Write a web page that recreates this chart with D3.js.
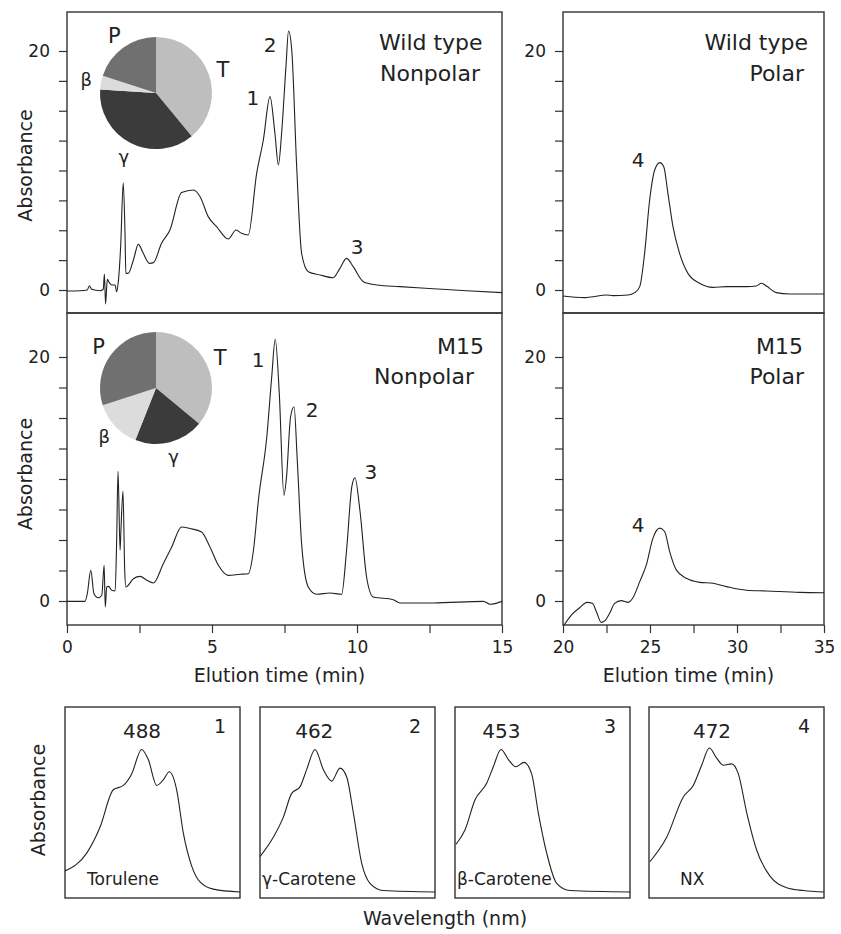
<!DOCTYPE html>
<html>
<head>
<meta charset="utf-8">
<script src="https://cdn.jsdelivr.net/npm/d3@7"></script>
<style>
  body { margin: 0; background: #fff; }
  text { font-family: "DejaVu Sans", Verdana, sans-serif; fill: #222; }
</style>
</head>
<body>
<div id="chart"></div>
<script>

// ---- data ----

// elution profiles: [time (min), absorbance]
var wtNonpolar = [[0,-0.08],[0.45,-0.06],[0.7,0],[0.77,0.36],[0.85,0.06],[1.14,-0.06],[1.25,0.06],[1.29,1.34],
  [1.33,-1.17],[1.39,0.89],[1.46,0.61],[1.54,0.42],[1.66,0.42],[1.71,-0.14],[1.77,0.7],[1.85,3.63],[1.94,8.98],
  [2.0,4.74],[2.03,1.39],[2.11,1.39],[2.29,2.51],[2.46,3.82],[2.63,3.07],[2.84,2.23],[2.98,2.29],[3.26,3.91],
  [3.55,5.02],[3.95,8.15],[4.36,8.37],[4.59,7.81],[4.87,6.14],[5.16,5.3],[5.56,4.27],[5.83,5.02],[6.02,4.74],
  [6.25,4.6],[6.54,9.76],[6.77,12.55],[7.0,16.18],[7.17,13.1],[7.29,10.46],[7.4,13.1],[7.55,18.69],[7.64,21.67],
  [7.75,20.08],[7.92,10.32],[8.09,3.07],[8.32,1.53],[8.72,1.26],[9.18,1.03],[9.41,1.81],[9.64,2.65],[9.87,1.95],
  [10.22,0.7],[10.68,0.42],[11.48,0.28],[12.63,0.11],[13.78,-0.06],[15,-0.22]];

var m15Nonpolar = [[0,-0.03],[0.62,-0.03],[0.7,0.6],[0.82,2.52],[0.93,0.6],[1.08,0.27],[1.2,0.47],[1.28,2.93],
  [1.32,-0.49],[1.37,1.15],[1.43,1.2],[1.54,0.88],[1.66,0.82],[1.71,4.7],[1.76,10.64],[1.83,4.16],[1.86,5.8],
  [1.93,9.0],[1.99,2.52],[2.03,1.15],[2.11,1.29],[2.29,1.83],[2.52,2.02],[2.75,1.7],[2.98,1.48],[3.32,3.06],
  [3.61,4.43],[3.95,6.07],[4.24,5.94],[4.64,5.66],[4.93,4.43],[5.22,2.93],[5.56,2.1],[5.97,2.19],[6.25,2.24],
  [6.43,4.16],[6.6,8.26],[6.89,13.46],[7.06,18.39],[7.18,21.45],[7.32,17.02],[7.48,8.67],[7.57,10.18],[7.71,15.1],
  [7.83,15.92],[7.94,11.55],[8.09,4.7],[8.32,1.15],[8.61,0.55],[9.07,0.66],[9.47,0.55],[9.64,4.16],[9.82,9.36],
  [9.93,10.1],[10.1,7.44],[10.33,1.97],[10.56,0.33],[11.25,0.11],[11.48,-0.16],[12.63,-0.16],[14.36,-0.03],
  [14.59,-0.27],[15,-0.03]];

var wtPolar = [[20,-0.5],[21.25,-0.64],[21.72,-0.56],[22.49,-0.42],[22.87,-0.47],[23.74,-0.42],[24.12,-0.22],
  [24.41,0.28],[24.69,3.07],[24.98,7.53],[25.27,10.04],[25.56,10.66],[25.79,10.32],[26.03,8.09],[26.32,5.3],
  [26.7,3.07],[27.18,1.39],[27.85,0.56],[28.62,0.22],[29.39,0.28],[30.54,0.28],[31.11,0.33],[31.4,0.56],
  [31.69,0.33],[32.26,-0.22],[33.03,-0.33],[35,-0.33]];

var m15Polar = [[20,-2.11],[20.48,-1.15],[20.96,-0.55],[21.38,-0.11],[21.69,-0.19],[21.92,-0.88],[22.2,-1.75],
  [22.45,-1.56],[22.68,-1.01],[22.97,-0.19],[23.35,0.03],[23.74,-0.11],[24.02,0.27],[24.41,1.59],[24.79,2.96],
  [25.17,5.15],[25.56,5.97],[25.84,5.7],[26.13,4.05],[26.51,2.55],[27.09,1.86],[27.85,1.53],[28.62,1.45],
  [29.39,1.18],[30.54,0.88],[31.69,0.82],[33.6,0.71],[35,0.68]];

// peak numbers: [time, absorbance, label]
var wtNonpolarPeaks = [[6.41,16.07,"1"],[7.0,20.5,"2"],[10.0,3.6,"3"]];
var m15NonpolarPeaks = [[6.59,19.75,"1"],[8.45,15.66,"2"],[10.48,10.57,"3"]];
var wtPolarPeaks = [[24.31,10.88,"4"]];
var m15PolarPeaks = [[24.31,6.26,"4"]];

// carotenoid composition (%): torulene, gamma, beta, polar
var pieLabels = ["T", "γ", "β", "P"];
var wtPie = [39, 37, 4, 20];
var m15Pie = [36, 20, 14, 30];

// absorption spectra: [wavelength (nm), relative absorbance]
var torulene = [[400,0.146],[424.8,0.27],[440,0.45],[455.2,0.71],[466.7,0.74],[476.2,0.82],[487.6,0.99],
  [495.2,0.92],[504.8,0.74],[512.4,0.78],[519.2,0.835],[527.6,0.71],[535.2,0.41],[544.8,0.18],[554.3,0.07],
  [569.5,0.02],[600,0]];
var gammaCarotene = [[400,0.245],[415.2,0.38],[426.7,0.52],[436.2,0.685],[445.7,0.73],[453.3,0.85],[462.9,0.99],
  [472.4,0.85],[481.9,0.77],[491.4,0.86],[499,0.8],[506.7,0.55],[516.2,0.2],[525.7,0.06],[541,0.01],[600,0]];
var betaCarotene = [[401,0.33],[411.4,0.43],[422.9,0.64],[436.2,0.755],[443.8,0.87],[452.6,0.99],[461,0.92],
  [469.4,0.87],[478.9,0.9],[487.6,0.82],[495.2,0.55],[504.8,0.27],[516.2,0.06],[531.4,0.01],[600,0]];
var nx = [[401,0.21],[420.2,0.38],[439.2,0.66],[450.6,0.74],[460.2,0.88],[468.9,1.0],[477.3,0.93],[484.9,0.88],
  [494.5,0.89],[502.1,0.82],[511.7,0.55],[523.1,0.29],[538.3,0.11],[557.4,0.03],[576.4,0.01],[600,0]];

var spectraNames = ["Torulene", "γ-Carotene", "β-Carotene", "NX"];
var spectraMax = [488, 462, 453, 472];
var spectraPeak = ["1", "2", "3", "4"];

var yTicks = [0, 2.5, 5, 7.5, 10, 12.5, 15, 17.5, 20];
var xTicksLeft = [0, 2.5, 5, 7.5, 10, 12.5, 15];
var xTicksRight = [20, 22.5, 25, 27.5, 30, 32.5, 35];

// ---- layout ----

var svg = d3.select("#chart")
  .append("svg")
    .attr("width", 841)
    .attr("height", 934);

var xLeft = d3.scaleLinear().domain([0, 15]).range([67, 502]);
var xRight = d3.scaleLinear().domain([20, 35]).range([563, 824]);
var yTop = d3.scaleLinear().domain([0, 20]).range([290, 51]);
var yMid = d3.scaleLinear().domain([0, 20]).range([601, 357]);

var panels = [
  {id: "a", x: xLeft, y: yTop, top: 12, bottom: 313, data: wtNonpolar, peaks: wtNonpolarPeaks,
   title: [["Wild type", 379, 50, "start"], ["Nonpolar", 380, 81, "start"]], pie: wtPie, pieAt: [156, 93]},
  {id: "b", x: xRight, y: yTop, top: 12, bottom: 313, data: wtPolar, peaks: wtPolarPeaks,
   title: [["Wild type", 808, 50, "end"], ["Polar", 804, 81, "end"]]},
  {id: "c", x: xLeft, y: yMid, top: 313, bottom: 625, data: m15Nonpolar, peaks: m15NonpolarPeaks, ticks: xTicksLeft,
   title: [["M15", 484, 354, "end"], ["Nonpolar", 474, 384, "end"]], pie: m15Pie, pieAt: [156, 388]},
  {id: "d", x: xRight, y: yMid, top: 313, bottom: 625, data: m15Polar, peaks: m15PolarPeaks, ticks: xTicksRight,
   title: [["M15", 803, 354, "end"], ["Polar", 804, 384, "end"]]}
];

var pieColor = d3.scaleOrdinal().domain(pieLabels).range(["#bebebe", "#3b3b3b", "#dcdcdc", "#707070"]);

panels.forEach(function(p) {
  var x0 = p.x.range()[0], x1 = p.x.range()[1];

  svg.append("clipPath").attr("id", "clip-" + p.id)
    .append("rect")
      .attr("x", x0).attr("y", p.top)
      .attr("width", x1 - x0).attr("height", p.bottom - p.top);

  // y axis
  svg.append("g")
    .attr("transform", "translate(" + x0 + ",0)")
    .style("font-size", "17px")
    .call(d3.axisLeft(p.y).tickValues(yTicks).tickSize(8).tickPadding(9)
      .tickFormat(function(d) { return (d === 0 || d === 20) ? d : ""; }))
    .call(function(g) { g.select(".domain").remove(); })
    .call(function(g) { g.selectAll("line").attr("stroke", "#333").attr("stroke-width", 1.2); });

  // x axis (bottom row only)
  if (p.ticks) {
    svg.append("g")
      .attr("transform", "translate(0," + p.bottom + ")")
      .style("font-size", "17px")
      .call(d3.axisBottom(p.x).tickValues(p.ticks).tickSize(8).tickPadding(8)
        .tickFormat(function(d) { return d % 5 === 0 ? d : ""; }))
      .call(function(g) { g.select(".domain").remove(); })
      .call(function(g) { g.selectAll("line").attr("stroke", "#333").attr("stroke-width", 1.2); });
  }

  // frame
  svg.append("rect")
    .attr("x", x0).attr("y", p.top)
    .attr("width", x1 - x0).attr("height", p.bottom - p.top)
    .attr("fill", "none").attr("stroke", "#333").attr("stroke-width", 1.4);

  // trace
  svg.append("path")
    .datum(p.data)
    .attr("clip-path", "url(#clip-" + p.id + ")")
    .attr("d", d3.line()
      .x(function(d) { return p.x(d[0]); })
      .y(function(d) { return p.y(d[1]); })
      .curve(d3.curveMonotoneX))
    .attr("fill", "none")
    .attr("stroke", "#222")
    .attr("stroke-width", 1.1);

  // peak numbers
  svg.selectAll(null)
    .data(p.peaks)
    .enter()
    .append("text")
      .attr("x", function(d) { return p.x(d[0]); })
      .attr("y", function(d) { return p.y(d[1]); })
      .attr("dy", "0.36em")
      .attr("text-anchor", "middle")
      .style("font-size", "20px")
      .text(function(d) { return d[2]; });

  // panel titles
  p.title.forEach(function(t) {
    svg.append("text")
      .attr("x", t[1]).attr("y", t[2])
      .attr("text-anchor", t[3])
      .style("font-size", "22px")
      .text(t[0]);
  });

  // inset pie
  if (p.pie) {
    var pie = d3.pie().sort(null).value(function(d) { return d; });
    var arc = d3.arc().innerRadius(0).outerRadius(56);
    var labelArc = d3.arc().innerRadius(71).outerRadius(71);
    var g = svg.append("g").attr("transform", "translate(" + p.pieAt[0] + "," + p.pieAt[1] + ")");
    var slices = pie(p.pie);
    g.selectAll("path")
      .data(slices)
      .enter()
      .append("path")
        .attr("d", arc)
        .attr("fill", function(d, i) { return pieColor(pieLabels[i]); });
    g.selectAll("text")
      .data(slices)
      .enter()
      .append("text")
        .attr("transform", function(d) { return "translate(" + labelArc.centroid(d) + ")"; })
        .attr("dy", "0.36em")
        .attr("text-anchor", "middle")
        .style("font-size", function(d, i) { return (i === 0 || i === 3) ? "21px" : "18px"; })
        .text(function(d, i) { return pieLabels[i]; });
  }
});

// axis titles for the elution profiles
[yTop, yMid].forEach(function(y) {
  svg.append("text")
    .attr("transform", "translate(32," + ((y(0) + y(20)) / 2 - 5) + ") rotate(-90)")
    .attr("text-anchor", "middle")
    .style("font-size", "19px")
    .text("Absorbance");
});
[xLeft, xRight].forEach(function(x) {
  svg.append("text")
    .attr("x", (x.range()[0] + x.range()[1]) / 2 - 5)
    .attr("y", 682)
    .attr("text-anchor", "middle")
    .style("font-size", "19px")
    .text("Elution time (min)");
});

// ---- absorption spectra ----

var spectra = [torulene, gammaCarotene, betaCarotene, nx];
var specLeft = [65, 260, 455, 649];
var specW = 175, specTop = 707, specBottom = 898;
var ySpec = d3.scaleLinear().domain([0, 1]).range([892, 748]);
var nameOffset = [22, 2, 2, 31];

spectra.forEach(function(s, i) {
  var xs = d3.scaleLinear().domain([400, 600]).range([specLeft[i], specLeft[i] + specW]);

  svg.append("clipPath").attr("id", "clip-s" + i)
    .append("rect")
      .attr("x", specLeft[i]).attr("y", specTop)
      .attr("width", specW).attr("height", specBottom - specTop);

  svg.append("rect")
    .attr("x", specLeft[i]).attr("y", specTop)
    .attr("width", specW).attr("height", specBottom - specTop)
    .attr("fill", "none").attr("stroke", "#333").attr("stroke-width", 1.4);

  svg.append("path")
    .datum(s)
    .attr("clip-path", "url(#clip-s" + i + ")")
    .attr("d", d3.line()
      .x(function(d) { return xs(d[0]); })
      .y(function(d) { return ySpec(d[1]); })
      .curve(d3.curveMonotoneX))
    .attr("fill", "none")
    .attr("stroke", "#222")
    .attr("stroke-width", 1.1);

  svg.append("text")
    .attr("x", xs(spectraMax[i]))
    .attr("y", ySpec(1) - 10)
    .attr("text-anchor", "middle")
    .style("font-size", "20px")
    .text(spectraMax[i]);

  svg.append("text")
    .attr("x", specLeft[i] + specW - 20)
    .attr("y", 733)
    .attr("text-anchor", "middle")
    .style("font-size", "19px")
    .text(spectraPeak[i]);

  svg.append("text")
    .attr("x", specLeft[i] + nameOffset[i])
    .attr("y", 885)
    .style("font-size", "17px")
    .text(spectraNames[i]);
});

svg.append("text")
  .attr("transform", "translate(45,800) rotate(-90)")
  .attr("text-anchor", "middle")
  .style("font-size", "19px")
  .text("Absorbance");

svg.append("text")
  .attr("x", 445)
  .attr("y", 925)
  .attr("text-anchor", "middle")
  .style("font-size", "19px")
  .text("Wavelength (nm)");

</script>
</body>
</html>
